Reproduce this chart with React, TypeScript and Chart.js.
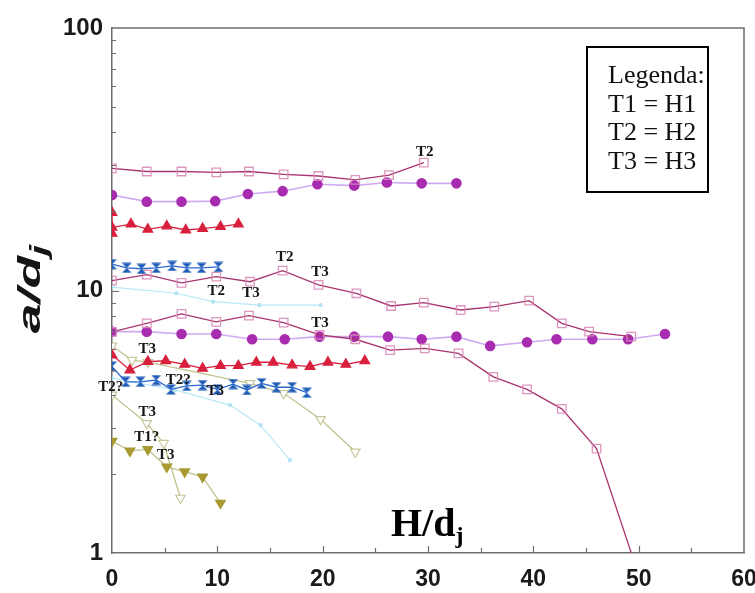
import React, { useEffect, useRef } from "react";
import { Chart, registerables } from "chart.js";
Chart.register(...registerables);

// ---- data (H/dj , a/dj) ----
const sqTopX = [0, 3.3, 6.6, 9.9, 13.0, 16.3, 19.6, 23.1, 26.3, 29.6];
const sqTopY = [29.2, 28.4, 28.4, 28.2, 28.4, 27.7, 27.3, 26.4, 27.5, 30.7];

const circTopX = [0, 3.3, 6.6, 9.8, 12.9, 16.2, 19.5, 23.0, 26.1, 29.4, 32.7];
const circTopY = [23.1, 21.8, 21.8, 21.9, 23.3, 23.9, 25.4, 25.1, 25.8, 25.6, 25.6];

const triTopX = [0, 0, 0, 1.8, 3.4, 5.2, 7.0, 8.6, 10.3, 12.0];
const triTopY = [19.8, 16.5, 17.4, 17.9, 17.1, 17.6, 17.0, 17.2, 17.5, 17.9];

const hgTopX = [0, 1.4, 2.8, 4.2, 5.7, 7.1, 8.5, 10.1];
const hgTopY = [12.6, 12.2, 12.1, 12.2, 12.4, 12.2, 12.2, 12.3];

const sqMidX = [0, 3.3, 6.6, 9.9, 13.1, 16.2, 19.6, 23.2, 26.5, 29.6, 33.1, 36.3, 39.6, 42.7, 45.3, 49.3];
const sqMidY = [10.9, 11.5, 10.7, 11.3, 10.8, 11.9, 10.5, 9.76, 8.73, 8.99, 8.43, 8.68, 9.15, 7.5, 6.97, 6.67];

const sqLowX = [0, 3.3, 6.6, 9.9, 13.0, 16.3, 19.7, 23.1, 26.4, 29.7, 32.9, 36.2, 39.4, 42.7, 46.0, 49.3];
const sqLowY = [6.95, 7.5, 8.14, 7.6, 8.02, 7.54, 6.77, 6.52, 5.93, 6.02, 5.76, 4.69, 4.2, 3.54, 2.5, 1.0];

const circLowX = [0, 3.3, 6.6, 9.9, 13.3, 16.4, 19.7, 23.0, 26.2, 29.4, 32.7, 35.9, 39.4, 42.2, 45.6, 49.0, 52.5];
const circLowY = [6.97, 6.97, 6.83, 6.83, 6.52, 6.52, 6.67, 6.67, 6.67, 6.52, 6.67, 6.15, 6.35, 6.52, 6.52, 6.52, 6.83];

const triLowX = [0, 1.7, 3.4, 5.1, 6.9, 8.6, 10.3, 12.0, 13.7, 15.3, 17.1, 18.8, 20.5, 22.2, 24.0];
const triLowY = [5.68, 4.98, 5.36, 5.4, 5.23, 5.05, 5.17, 5.17, 5.33, 5.33, 5.2, 5.13, 5.33, 5.23, 5.4];

const hgLowX = [0, 1.3, 2.7, 4.2, 5.6, 7.1, 8.6, 10.0, 11.5, 12.8, 14.2, 15.6, 17.1, 18.5];
const hgLowY = [5.13, 4.49, 4.49, 4.56, 4.2, 4.33, 4.36, 4.2, 4.4, 4.18, 4.43, 4.28, 4.28, 4.08];

const openDownAX = [0, 1.9, 3.4, 13.1, 16.3, 19.8, 23.1];
const openDownAY = [6.15, 5.43, 5.34, 4.43, 4.06, 3.23, 2.43];

const openDownBX = [0, 3.3, 4.9, 6.5];
const openDownBY = [4.0, 3.12, 2.62, 1.62];

const fillDownX = [0, 1.7, 3.4, 5.2, 6.9, 8.6, 10.3];
const fillDownY = [2.67, 2.45, 2.48, 2.13, 2.04, 1.95, 1.55];

const cyanAX = [0, 6.1, 9.6, 14.0, 19.8];
const cyanAY = [10.3, 9.76, 9.07, 8.8, 8.8];

const cyanBX = [0, 6.0, 11.2, 14.1, 16.9];
const cyanBY = [4.64, 4.18, 3.66, 3.07, 2.26];

const xTickValues = [0, 10, 20, 30, 40, 50, 60];
const yTickValues = [1, 10, 100];

const noteTexts = ["T2", "T2", "T3", "T2", "T3", "T3", "T3", "T2?", "T2?", "T3", "T3", "T1?", "T3"];
const noteX = [29.7, 16.4, 19.75, 9.9, 13.2, 19.75, 3.35, -0.12, 6.3, 9.8, 3.35, 3.3, 5.1];
const noteY = [33.8, 13.4, 11.7, 9.98, 9.81, 7.54, 5.97, 4.3, 4.56, 4.12, 3.45, 2.76, 2.36];

const legendLines = ["Legenda:", "T1 = H1", "T2 = H2", "T3 = H3"];

const pts = (xs: number[], ys: number[]) => xs.map((x, i) => ({ x, y: ys[i] }));

function makeHourglass(color: string) {
  const c = document.createElement("canvas");
  c.width = 11;
  c.height = 11;
  const g = c.getContext("2d")!;
  g.fillStyle = color;
  g.beginPath();
  g.moveTo(0.5, 0.5);
  g.lineTo(10.5, 0.5);
  g.lineTo(5.5, 5.5);
  g.closePath();
  g.moveTo(0.5, 10.5);
  g.lineTo(10.5, 10.5);
  g.lineTo(5.5, 5.5);
  g.closePath();
  g.fill();
  return c;
}

const decor = {
  id: "decor",
  afterDraw(chart: any) {
    const { ctx, chartArea: a } = chart;
    const xs = chart.scales.x;
    const ys = chart.scales.y;
    ctx.save();
    ctx.strokeStyle = "#6e6e6e";
    ctx.lineWidth = 1.5;
    ctx.beginPath();
    ctx.moveTo(a.left, a.top);
    ctx.lineTo(a.right, a.top);
    ctx.lineTo(a.right, a.bottom);
    ctx.stroke();
    // inward ticks on y
    ctx.lineWidth = 1.2;
    ctx.beginPath();
    for (let d = 1; d < 100; d *= 10) {
      for (let m = 1; m <= 9; m++) {
        const v = d * m;
        if (v === 1) continue;
        const py = Math.round(ys.getPixelForValue(v)) + 0.5;
        const len = m === 1 ? 7 : 4;
        ctx.moveTo(a.left, py);
        ctx.lineTo(a.left + len, py);
      }
    }
    // inward ticks on x
    for (let v = 5; v < 60; v += 5) {
      const px = Math.round(xs.getPixelForValue(v)) + 0.5;
      const len = v % 10 === 0 ? 7 : 5;
      ctx.moveTo(px, a.bottom);
      ctx.lineTo(px, a.bottom - len);
    }
    ctx.stroke();

    // annotations
    ctx.fillStyle = "#151515";
    ctx.font = 'bold 15px "Liberation Serif"';
    ctx.textAlign = "center";
    ctx.textBaseline = "middle";
    noteTexts.forEach((t, i) => {
      ctx.fillText(t, xs.getPixelForValue(noteX[i]), ys.getPixelForValue(noteY[i]));
    });

    // y title
    ctx.save();
    ctx.translate(40, 289);
    ctx.rotate(-Math.PI / 2);
    ctx.scale(1.67, 1);
    ctx.textAlign = "left";
    ctx.textBaseline = "alphabetic";
    ctx.font = 'bold italic 32px "Liberation Sans"';
    const w1 = ctx.measureText("a/d").width;
    ctx.font = 'bold italic 24px "Liberation Sans"';
    const w2 = ctx.measureText("j").width;
    const start = -(w1 + w2) / 2;
    ctx.font = 'bold italic 32px "Liberation Sans"';
    ctx.fillText("a/d", start, 0);
    ctx.font = 'bold italic 24px "Liberation Sans"';
    ctx.fillText("j", start + w1, 7);
    ctx.restore();

    // x title
    ctx.textAlign = "left";
    ctx.textBaseline = "alphabetic";
    ctx.fillStyle = "#000";
    ctx.font = 'bold 40px "Liberation Serif"';
    ctx.fillText("H/d", 391, 536);
    const hw = ctx.measureText("H/d").width;
    ctx.font = 'bold 24px "Liberation Serif"';
    ctx.fillText("j", 391 + hw, 543);

    // legend box
    ctx.strokeStyle = "#000";
    ctx.lineWidth = 2;
    ctx.strokeRect(587, 47, 121, 145);
    ctx.font = '26px "Liberation Serif"';
    ctx.fillStyle = "#111";
    legendLines.forEach((t, i) => ctx.fillText(t, 608, 83 + i * 28.5));
    ctx.restore();
  },
};

export default function App() {
  const ref = useRef<HTMLCanvasElement>(null);
  useEffect(() => {
    const hgBlue = makeHourglass("#1d5cb8");
    const sqStyle = {
      pointStyle: "rect",
      pointRadius: 6,
      pointBorderColor: "rgba(216,140,184,0.9)",
      pointBackgroundColor: "rgba(255,255,255,0)",
      pointBorderWidth: 1.3,
      borderColor: "#a8346e",
      borderWidth: 1.3,
    };
    const circStyle = {
      pointStyle: "circle",
      pointRadius: 4.5,
      pointBorderColor: "#a82cb0",
      pointBackgroundColor: "#a82cb0",
      borderColor: "#cfaaf0",
      borderWidth: 1.6,
    };
    const triStyle = {
      pointStyle: "triangle",
      pointRadius: 5.5,
      pointBorderColor: "#d8203c",
      pointBackgroundColor: "#d8203c",
      borderColor: "#d8203c",
      borderWidth: 1.3,
    };
    const hgStyle = {
      pointStyle: hgBlue,
      pointRadius: 5,
      borderColor: "#2d6ad0",
      borderWidth: 1.3,
    };
    const openDown = {
      pointStyle: "triangle",
      rotation: 180,
      pointRadius: 5.5,
      pointBorderColor: "#c8c89c",
      pointBackgroundColor: "#ffffff",
      pointBorderWidth: 1.2,
      borderColor: "#c4c290",
      borderWidth: 1.3,
    };
    const fillDown = {
      pointStyle: "triangle",
      rotation: 180,
      pointRadius: 5.5,
      pointBorderColor: "#a89a30",
      pointBackgroundColor: "#a89a30",
      borderColor: "#c4c290",
      borderWidth: 1.3,
    };
    const cyanStyle = {
      pointStyle: "circle",
      pointRadius: 1.5,
      pointBorderColor: "#b0e4f4",
      pointBackgroundColor: "#b0e4f4",
      borderColor: "#b8e8f8",
      borderWidth: 1.2,
    };
    const ds = (data: any, style: any) => ({ data, showLine: true, tension: 0, ...style });
    const sqLowRadius = sqLowX.map((_, i) => (i === sqLowX.length - 1 ? 0 : 6));

    const chart = new Chart(ref.current!, {
      type: "scatter",
      data: {
        datasets: [
          ds(pts(sqTopX, sqTopY), sqStyle),
          ds(pts(circTopX, circTopY), circStyle),
          ds(pts(triTopX, triTopY), triStyle),
          ds(pts(hgTopX, hgTopY), hgStyle),
          ds(pts(triLowX, triLowY), triStyle),
          ds(pts(hgLowX, hgLowY), hgStyle),
          ds(pts(sqMidX, sqMidY), sqStyle),
          ds(pts(sqLowX, sqLowY), { ...sqStyle, pointRadius: sqLowRadius }),
          ds(pts(circLowX, circLowY), circStyle),
          ds(pts(fillDownX, fillDownY), fillDown),
          ds(pts(openDownAX, openDownAY), openDown),
          ds(pts(openDownBX, openDownBY), openDown),
          ds(pts(cyanAX, cyanAY), cyanStyle),
          ds(pts(cyanBX, cyanBY), cyanStyle),
        ] as any,
      },
      options: {
        animation: false,
        responsive: false,
        devicePixelRatio: 1,
        layout: { padding: { left: 0, top: 28, right: 11, bottom: 0 } },
        plugins: { legend: { display: false }, tooltip: { enabled: false } },
        scales: {
          x: {
            type: "linear",
            min: 0,
            max: 60,
            afterBuildTicks: (s: any) => {
              s.ticks = xTickValues.map((v) => ({ value: v }));
            },
            afterFit: (s: any) => {
              s.height = 40;
              s.paddingLeft = 0;
              s.paddingRight = 0;
            },
            grid: { display: false, drawTicks: false },
            border: { display: true, color: "#6e6e6e", width: 1.5 },
            ticks: {
              padding: 13,
              color: "#1a1a1a",
              maxRotation: 0,
              font: { family: '"Liberation Sans"', size: 23, weight: "bold" },
              callback: (v: any) => String(v),
            },
          },
          y: {
            type: "logarithmic",
            min: 1,
            max: 100,
            afterBuildTicks: (s: any) => {
              s.ticks = yTickValues.map((v) => ({ value: v }));
            },
            afterFit: (s: any) => {
              s.width = 112;
              s.paddingTop = 0;
              s.paddingBottom = 0;
            },
            grid: { display: false, drawTicks: false },
            border: { display: true, color: "#6e6e6e", width: 1.5 },
            ticks: {
              padding: 9,
              color: "#1a1a1a",
              font: { family: '"Liberation Sans"', size: 24, weight: "bold" },
              callback: (v: any) => String(v),
            },
          },
        },
      } as any,
      plugins: [decor],
    });
    return () => chart.destroy();
  }, []);
  return (
    <div style={{ position: "absolute", left: 0, top: 0, width: 755, height: 593, background: "#fff" }}>
      <canvas ref={ref} width={755} height={593} style={{ width: 755, height: 593 }} />
    </div>
  );
}
